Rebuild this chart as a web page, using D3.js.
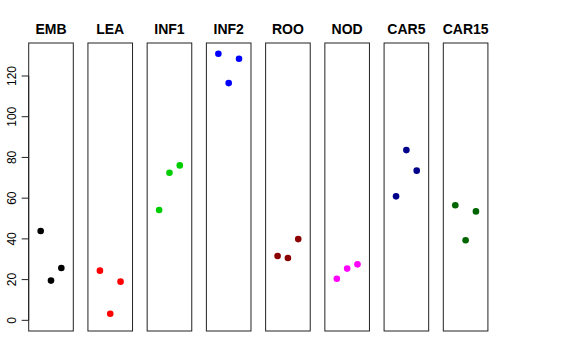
<!DOCTYPE html>
<html><head><meta charset="utf-8">
<script src="https://cdn.jsdelivr.net/npm/d3@7"></script>
<style>body{margin:0;background:#fff}svg{display:block}</style>
</head><body>
<svg id="c" width="576" height="360"></svg>
<script>
const categories = ["EMB","LEA","INF1","INF2","ROO","NOD","CAR5","CAR15"];
const colors = ["#000000","#FF0000","#00CD00","#0000FF","#8B0000","#FF00FF","#00008B","#006400"];
const seriesValues = [
  [43.9, 19.5, 25.7],
  [24.4, 3.2, 19.0],
  [54.2, 72.5, 76.1],
  [130.9, 116.5, 128.5],
  [31.6, 30.6, 39.9],
  [20.4, 25.4, 27.5],
  [60.9, 83.6, 73.5],
  [56.5, 39.3, 53.5]
];
const yTicks = [0, 20, 40, 60, 80, 100, 120];
const xPositions = [1, 2, 3];

(function () {
  const svg = d3.select("#c");
  const plotTop = 43, plotBottom = 331, panelW = 44.6, firstX = 28.7, step = 59.23;
  const y = d3.scaleLinear().domain([-5.24, 136.2]).range([plotBottom, plotTop]);

  categories.forEach((cat, i) => {
    const x0 = firstX + i * step;
    const x = d3.scaleLinear().domain([-0.16, 4.16]).range([x0, x0 + panelW]);
    const g = svg.append("g");
    g.append("rect").attr("x", x0).attr("y", plotTop).attr("width", panelW).attr("height", plotBottom - plotTop)
      .attr("fill", "none").attr("stroke", "#222").attr("stroke-width", 1);
    g.selectAll("circle").data(seriesValues[i]).join("circle")
      .attr("cx", (d, j) => x(xPositions[j])).attr("cy", d => y(d)).attr("r", 3.3)
      .attr("fill", colors[i]);
    g.append("text").attr("x", x0 + panelW / 2).attr("y", 34).attr("text-anchor", "middle")
      .attr("font-family", "Liberation Sans, Arial, sans-serif").attr("font-weight", "bold")
      .attr("font-size", 14).text(cat);
  });

  const ax = svg.append("g");
  ax.append("line").attr("x1", firstX).attr("x2", firstX).attr("y1", y(0)).attr("y2", y(120)).attr("stroke", "#222");
  ax.selectAll("line.t").data(yTicks).join("line").attr("class", "t")
    .attr("x1", firstX - 7).attr("x2", firstX).attr("y1", d => y(d)).attr("y2", d => y(d)).attr("stroke", "#222");
  ax.selectAll("text").data(yTicks).join("text")
    .attr("transform", d => `translate(15.5,${y(d)}) rotate(-90)`)
    .attr("text-anchor", "middle").attr("font-family", "Liberation Sans, Arial, sans-serif")
    .attr("font-size", 12).text(d => d);
})();
</script>
</body></html>
